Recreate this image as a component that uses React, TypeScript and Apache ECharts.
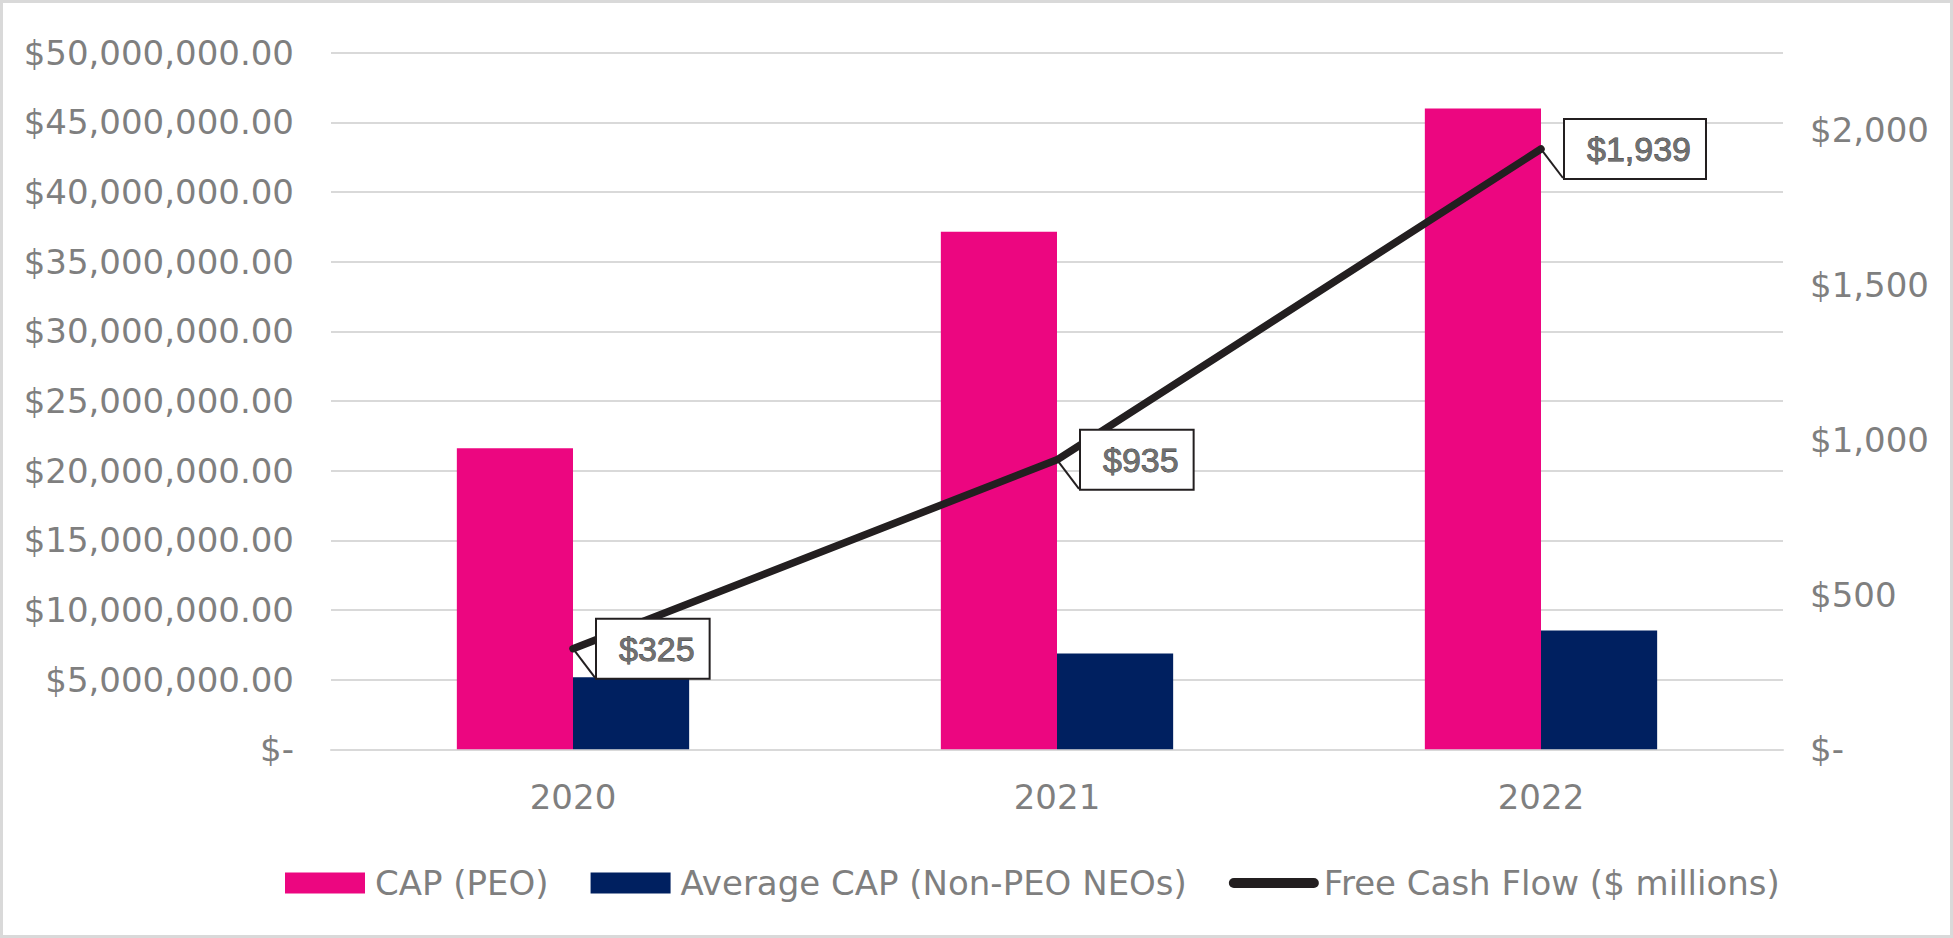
import React, { useEffect, useRef } from "react";
import * as echarts from "echarts";

const categories = ["2020", "2021", "2022"];
const capPeo = [21600000, 37150000, 46000000];
const avgCapNonPeo = [5170000, 6880000, 8530000];
const freeCashFlow = [325, 935, 1939];
const seriesNames = ["CAP (PEO)", "Average CAP (Non-PEO NEOs)", "Free Cash Flow ($ millions)"];

const AXIS_FONT = "DejaVu Sans";
const GRAY = "#7f7f7f";

function leftFmt(v: number) {
  if (v === 0) return "$-";
  return "$" + v.toLocaleString("en-US", { minimumFractionDigits: 2, maximumFractionDigits: 2 });
}
function rightFmt(v: number) {
  if (v === 0) return "$-";
  return "$" + v.toLocaleString("en-US");
}

export default function App() {
  const ref = useRef<HTMLDivElement>(null);
  useEffect(() => {
    if (!ref.current) return;
    const chart = echarts.init(ref.current, undefined, { renderer: "svg" });
    chart.setOption({
      animation: false,
      backgroundColor: "#ffffff",
      graphic: [
        {
          type: "rect",
          shape: { x: 1.5, y: 1.5, width: 1950, height: 935 },
          style: { fill: "none", stroke: "#d9d9d9", lineWidth: 3 },
          silent: true,
        },
      ],
      grid: { left: 331, right: 1953 - 1783, top: 52.7, bottom: 938 - 749.3, containLabel: false },
      legend: {
        left: 280,
        top: 858,
        itemWidth: 80,
        itemHeight: 21,
        itemGap: 42,
        textStyle: { fontFamily: AXIS_FONT, fontSize: 34, color: GRAY, lineHeight: 40, padding: [0, 0, 0, 5] },
        data: [
          { name: seriesNames[0], icon: "rect" },
          { name: seriesNames[1], icon: "rect" },
          {
            name: seriesNames[2],
            itemStyle: { color: "rgba(0,0,0,0)", borderWidth: 0 },
            lineStyle: { color: "#231F20", width: 10, cap: "round" },
          },
        ],
      },
      xAxis: {
        type: "category",
        data: categories,
        axisLine: { show: true, lineStyle: { color: "#d9d9d9", width: 2 } },
        axisTick: { show: false },
        axisLabel: { fontFamily: AXIS_FONT, fontSize: 34, color: GRAY, margin: 31 },
      },
      yAxis: [
        {
          type: "value",
          min: 0,
          max: 50000000,
          interval: 5000000,
          axisLine: { show: false },
          axisTick: { show: false },
          splitLine: { show: true, lineStyle: { color: "#d9d9d9", width: 2 } },
          axisLabel: { fontFamily: AXIS_FONT, fontSize: 34, color: GRAY, margin: 37, formatter: leftFmt },
        },
        {
          type: "value",
          min: 0,
          max: 2250,
          interval: 500,
          position: "right",
          axisLine: { show: false },
          axisTick: { show: false },
          splitLine: { show: false },
          axisLabel: {
            fontFamily: AXIS_FONT,
            fontSize: 34,
            color: GRAY,
            margin: 27,
            showMaxLabel: false,
            formatter: rightFmt,
          },
        },
      ],
      series: [
        {
          name: seriesNames[0],
          type: "bar",
          data: capPeo,
          barWidth: "24%",
          barGap: "0%",
          itemStyle: { color: "#EC0680" },
        },
        {
          name: seriesNames[1],
          type: "bar",
          data: avgCapNonPeo,
          barWidth: "24%",
          barGap: "0%",
          itemStyle: { color: "#002060" },
        },
        {
          name: seriesNames[2],
          type: "line",
          yAxisIndex: 1,
          data: freeCashFlow,
          symbol: "circle",
          symbolSize: 2,
          itemStyle: { color: "#231F20" },
          lineStyle: { color: "#231F20", width: 7.5, cap: "round" },
          label: {
            show: true,
            position: "right",
            distance: 23,
            formatter: (p: any) => "$" + Number(p.value).toLocaleString("en-US"),
            fontFamily: "Liberation Sans",
            fontSize: 34,
            lineHeight: 34,
            color: "#707070",
            textBorderColor: "#3a3a3a",
            textBorderWidth: 0.8,
            backgroundColor: "#ffffff",
            borderColor: "#231F20",
            borderWidth: 2,
            padding: [12, 14, 12, 22],
          },
          labelLine: { show: true, lineStyle: { color: "#231F20", width: 2 } },
          z: 5,
        },
      ],
    });
    return () => chart.dispose();
  }, []);
  return (
    <div
      ref={ref}
      style={{ position: "fixed", left: 0, top: 0, width: 1953, height: 938, background: "#fff" }}
    />
  );
}
